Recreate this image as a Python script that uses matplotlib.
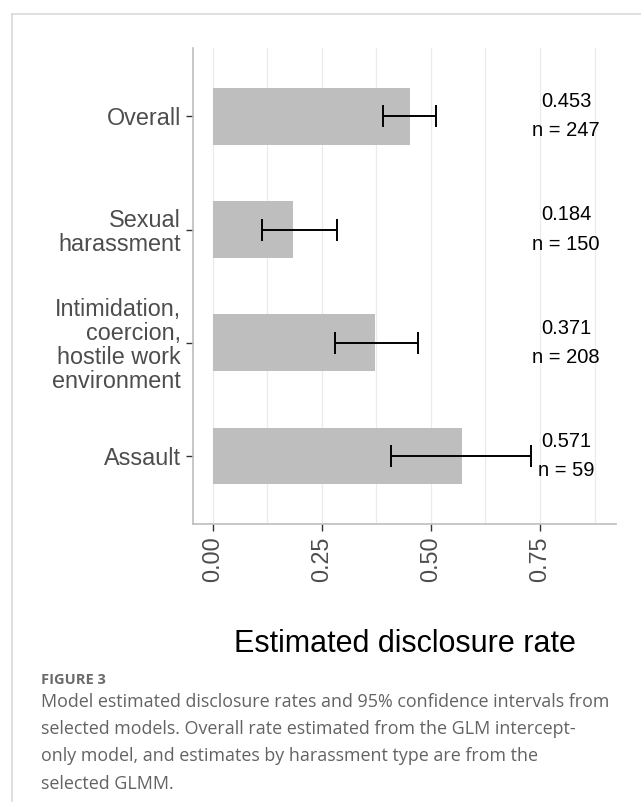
import matplotlib
matplotlib.use("Agg")
import matplotlib.pyplot as plt
from matplotlib.lines import Line2D
from matplotlib.ticker import MultipleLocator

# Estimated disclosure rates with 95% confidence intervals
categories = ["Overall", "Sexual\nharassment",
              "Intimidation,\ncoercion,\nhostile work\nenvironment", "Assault"]
rates = [0.453, 0.184, 0.371, 0.571]
ci_low = [0.391, 0.114, 0.281, 0.408]
ci_high = [0.511, 0.286, 0.470, 0.729]
n_obs = [247, 150, 208, 59]
xticks = [0.00, 0.25, 0.50, 0.75]
xtick_labels = ["0.00", "0.25", "0.50", "0.75"]

W, H = 641, 802
fig = plt.figure(figsize=(W / 100, H / 100), dpi=100)
fig.patch.set_facecolor("white")

# page frame (top and left edges only)
frame_col = "#d9d9d9"
fig.add_artist(Line2D([11.5 / W, 1.0], [1 - 13.5 / H, 1 - 13.5 / H],
                      color=frame_col, lw=1.2, transform=fig.transFigure))
fig.add_artist(Line2D([11.5 / W, 11.5 / W], [0.0, 1 - 13.5 / H],
                      color=frame_col, lw=1.2, transform=fig.transFigure))

left, right, top, bottom = 193.3, 616, 48.3, 524
ax = fig.add_axes([left / W, 1 - bottom / H, (right - left) / W, (bottom - top) / H])

ypos = list(range(len(categories)))
ax.set_xlim(-0.044, 0.924)
ax.set_ylim(len(categories) - 0.4, -0.6)

ax.xaxis.set_minor_locator(MultipleLocator(0.125))
ax.grid(True, axis="x", which="both", color="#ebebeb", lw=0.9, zorder=0)
ax.set_axisbelow(True)

ax.barh(ypos, rates, height=0.5, color="#bebebe", zorder=2)
xerr = [[r - lo for r, lo in zip(rates, ci_low)],
        [hi - r for r, hi in zip(rates, ci_high)]]
ax.errorbar(rates, ypos, xerr=xerr, fmt="none", ecolor="black",
            elinewidth=1.4, capsize=8.2, capthick=1.4, zorder=3)

for y, r, n in zip(ypos, rates, n_obs):
    ax.text(0.81, y, f"{r:.3f}\nn = {n}", ha="center", va="center",
            fontsize=14.5, family="Liberation Sans", color="black",
            linespacing=1.68, zorder=4)

ax.set_yticks(ypos)
ax.set_yticklabels(categories, family="Liberation Sans", fontsize=16.8,
                   color="#4d4d4d", linespacing=1.06, ha="right")
ax.set_xticks(xticks)
ax.set_xticklabels(xtick_labels, family="Liberation Sans", fontsize=16.8,
                   color="#4d4d4d", rotation=90, va="top", ha="center")
ax.tick_params(axis="both", which="major", length=5, width=1.0,
               color="#333333", pad=3.8)
ax.tick_params(axis="x", which="minor", length=0)

for s in ["top", "right"]:
    ax.spines[s].set_visible(False)
for s in ["left", "bottom"]:
    ax.spines[s].set_color("#bdbdbd")
    ax.spines[s].set_linewidth(1.2)

ax.set_xlabel("Estimated disclosure rate", family="Liberation Sans",
              fontsize=22, color="black", labelpad=34)

# caption
cap_x = 41 / W
fig.text(cap_x, 1 - 680 / H, "FIGURE 3", family="Open Sans", fontsize=10.5,
         fontweight="bold", color="#6b6b6b", va="center")
caption = ("Model estimated disclosure rates and 95% confidence intervals from\n"
           "selected models. Overall rate estimated from the GLM intercept-\n"
           "only model, and estimates by harassment type are from the\n"
           "selected GLMM.")
fig.text(cap_x, 1 - 693 / H, caption, family="Open Sans", fontsize=12.9,
         color="#636363", va="top", linespacing=1.66)

fig.savefig("out.png", dpi=100, facecolor="white")
